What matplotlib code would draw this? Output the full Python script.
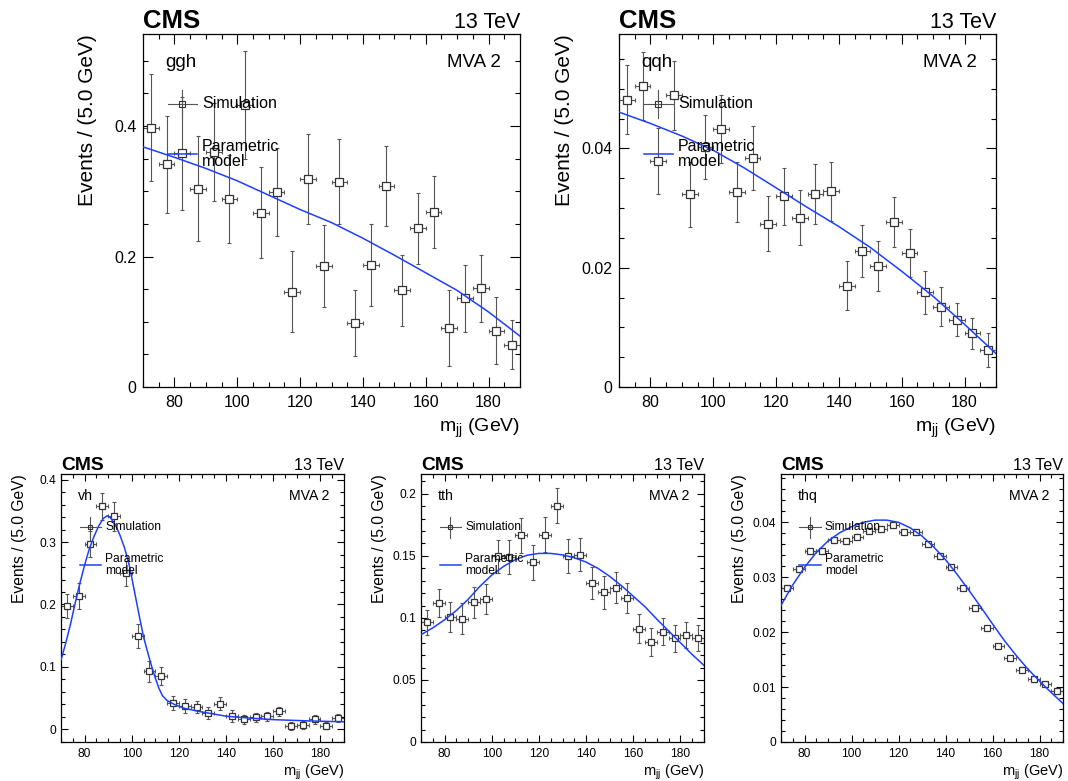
import matplotlib
matplotlib.use("Agg")
import matplotlib.pyplot as plt
from matplotlib.ticker import MultipleLocator, FuncFormatter

plt.rcParams['font.family'] = ['Liberation Sans', 'DejaVu Sans']
plt.rcParams['mathtext.fontset'] = 'custom'
plt.rcParams['mathtext.rm'] = 'Liberation Sans'
plt.rcParams['mathtext.it'] = 'Liberation Sans'

# ---------------- data ----------------
mjj_bins = [72.5, 77.5, 82.5, 87.5, 92.5, 97.5, 102.5, 107.5, 112.5, 117.5, 122.5, 127.5,
            132.5, 137.5, 142.5, 147.5, 152.5, 157.5, 162.5, 167.5, 172.5, 177.5, 182.5, 187.5]
bin_half_width = 2.5

ggh_values = [0.397, 0.341, 0.358, 0.304, 0.360, 0.288, 0.432, 0.267, 0.299, 0.146, 0.319, 0.185,
              0.3145, 0.098, 0.187, 0.308, 0.148, 0.243, 0.268, 0.090, 0.136, 0.151, 0.0865, 0.065]
ggh_errors = [0.082, 0.074, 0.0865, 0.081, 0.075, 0.067, 0.083, 0.070, 0.067, 0.062, 0.069, 0.063,
              0.065, 0.051, 0.063, 0.062, 0.054, 0.055, 0.055, 0.0585, 0.051, 0.052, 0.051, 0.037]
ggh_model_x = [70, 80, 90, 100, 110, 120, 130, 140, 150, 160, 170, 180, 190]
ggh_model_y = [0.368, 0.352, 0.335, 0.316, 0.294, 0.272, 0.252, 0.228, 0.202, 0.175, 0.148, 0.115, 0.078]

qqh_values = [0.0482, 0.0505, 0.0379, 0.0489, 0.0323, 0.0402, 0.0433, 0.0327, 0.0384, 0.0274, 0.0320, 0.0284,
              0.0324, 0.0328, 0.0170, 0.0228, 0.0203, 0.0276, 0.0225, 0.0159, 0.0135, 0.0113, 0.0090, 0.0062]
qqh_errors = [0.00585, 0.0057, 0.0056, 0.00585, 0.0054, 0.0054, 0.0057, 0.0050, 0.0054, 0.00465, 0.00475, 0.00465,
              0.0050, 0.0050, 0.0041, 0.0043, 0.0042, 0.0042, 0.0040, 0.0036, 0.0033, 0.0028, 0.0026, 0.0029]
qqh_model_x = [70, 80, 90, 100, 110, 120, 130, 140, 150, 160, 170, 180, 190]
qqh_model_y = [0.0461, 0.0442, 0.0421, 0.0397, 0.0367, 0.0334, 0.0301, 0.0269, 0.0234, 0.0194, 0.0152, 0.0105, 0.0056]

vh_values = [0.197, 0.213, 0.297, 0.357, 0.341, 0.250, 0.150, 0.093, 0.086, 0.042, 0.037, 0.036,
             0.026, 0.041, 0.021, 0.016, 0.019, 0.021, 0.029, 0.005, 0.007, 0.016, 0.006, 0.018]
vh_errors = [0.019, 0.0206, 0.0214, 0.0222, 0.0233, 0.020, 0.019, 0.017, 0.0145, 0.0118, 0.0115, 0.010,
             0.010, 0.010, 0.010, 0.0072, 0.0075, 0.007, 0.0075, 0.006, 0.007, 0.007, 0.006, 0.007]
vh_model_x = [70, 72, 74, 76, 78, 80, 82, 84, 86, 88, 89.5, 91, 93, 95, 97, 99, 101, 103, 105, 107,
              108.5, 110, 111.5, 113, 115, 118, 122, 128, 134, 140, 150, 160, 175, 190]
vh_model_y = [0.111, 0.138, 0.168, 0.202, 0.234, 0.263, 0.289, 0.309, 0.326, 0.338, 0.342, 0.339, 0.328,
              0.311, 0.290, 0.262, 0.224, 0.185, 0.148, 0.120, 0.100, 0.082, 0.066, 0.054, 0.046, 0.040,
              0.034, 0.029, 0.025, 0.021, 0.018, 0.0155, 0.0135, 0.012]

tth_values = [0.0965, 0.112, 0.1005, 0.0992, 0.1127, 0.1154, 0.1496, 0.149, 0.1666, 0.1447, 0.1671, 0.1906,
              0.150, 0.151, 0.128, 0.1205, 0.1245, 0.116, 0.0914, 0.0809, 0.089, 0.0836, 0.0863, 0.0841]
tth_errors = [0.010, 0.011, 0.012, 0.0125, 0.0125, 0.012, 0.0135, 0.0135, 0.0142, 0.0138, 0.0143, 0.0139,
              0.014, 0.0134, 0.013, 0.013, 0.0124, 0.012, 0.0114, 0.0113, 0.0108, 0.011, 0.0105, 0.0104]
tth_model_x = [70, 75, 80, 85, 90, 95, 100, 105, 110, 115, 120, 125, 130, 135, 140, 145, 150, 155,
               160, 165, 170, 175, 180, 185, 190]
tth_model_y = [0.0865, 0.092, 0.0985, 0.106, 0.1150, 0.1255, 0.1345, 0.1415, 0.147, 0.1505, 0.152, 0.152,
               0.1508, 0.1485, 0.145, 0.140, 0.1335, 0.126, 0.1175, 0.109, 0.099, 0.0895, 0.080, 0.0705, 0.0617]

thq_values = [0.0281, 0.0315, 0.0348, 0.0348, 0.0367, 0.0366, 0.0374, 0.0385, 0.0388, 0.0396, 0.0382, 0.0382,
              0.0360, 0.0339, 0.0318, 0.0280, 0.0244, 0.0208, 0.0175, 0.0153, 0.0132, 0.0114, 0.0105, 0.0093]
thq_errors = [0.0005, 0.0005, 0.0005, 0.0005, 0.0005, 0.0005, 0.0005, 0.0005, 0.0005, 0.0005, 0.0005, 0.0005,
              0.0005, 0.0005, 0.0005, 0.0004, 0.0004, 0.0004, 0.0004, 0.0004, 0.0004, 0.0004, 0.0004, 0.0005]
thq_model_x = [70, 75, 80, 85, 90, 95, 100, 105, 110, 115, 120, 125, 130, 135, 140, 145, 150, 155,
               160, 165, 170, 175, 180, 185, 190]
thq_model_y = [0.0249, 0.0286, 0.0318, 0.0345, 0.0366, 0.0381, 0.0392, 0.0400, 0.0404, 0.0404, 0.0400, 0.0390,
               0.0375, 0.0355, 0.0332, 0.0305, 0.0276, 0.0246, 0.0215, 0.0185, 0.0158, 0.0133, 0.0111, 0.0090, 0.0070]

process_labels = ['ggh', 'qqh', 'vh', 'tth', 'thq']
category_label = 'MVA 2'
energy_label = '13 TeV'
experiment_label = 'CMS'
y_title = 'Events / (5.0 GeV)'
x_title = r'm$_{\mathregular{jj}}$ (GeV)'
legend_labels = ['Simulation', 'Parametric\nmodel']

# ---------------- layout ----------------
W, H = 1068, 781
fig = plt.figure(figsize=(W / 100, H / 100), dpi=100)

MODEL_COLOR = '#1f3fff'
ERR_COLOR = '#555555'
MK_COLOR = '#333333'


def fmt_tick(v, pos):
    if abs(v) < 1e-12:
        return '0'
    return ('%.3f' % v).rstrip('0').rstrip('.')


def panel(rect_px, proc, vals, errs, mx, my, ylim, ymaj, ymin, s):
    l, t, r, b = rect_px
    ax = fig.add_axes([l / W, 1 - b / H, (r - l) / W, (b - t) / H])
    ax.set_xlim(70, 190)
    ax.set_ylim(*ylim)
    # data
    ax.errorbar(mjj_bins, vals, xerr=bin_half_width, yerr=errs, fmt='none',
                ecolor=ERR_COLOR, elinewidth=0.8, capsize=1.6 * s, capthick=0.8, zorder=2)
    ax.plot(mjj_bins, vals, ls='none', marker='s', ms=6.0 * s, mfc='white', mec=MK_COLOR,
            mew=0.9, zorder=3)
    ax.plot(mx, my, color=MODEL_COLOR, lw=1.1, zorder=4)
    # ticks
    ax.xaxis.set_major_locator(MultipleLocator(20))
    ax.xaxis.set_minor_locator(MultipleLocator(5))
    ax.yaxis.set_major_locator(MultipleLocator(ymaj))
    ax.yaxis.set_minor_locator(MultipleLocator(ymin))
    ax.yaxis.set_major_formatter(FuncFormatter(fmt_tick))
    ax.tick_params(which='both', direction='in', top=True, right=True, width=0.8)
    ax.tick_params(which='major', length=7 * s, labelsize=11.5 * s)
    ax.tick_params(which='minor', length=3.6 * s)
    ax.tick_params(axis='x', pad=6 * s)
    ax.tick_params(axis='y', pad=4.5 * s)
    for sp in ax.spines.values():
        sp.set_linewidth(0.9)
    # texts
    fig.text(l / W, 1 - (t - 6 * s) / H, experiment_label, fontsize=18.5 * s, fontweight='bold',
             ha='left', va='baseline')
    fig.text(r / W, 1 - (t - 6 * s) / H, energy_label, fontsize=15.5 * s, ha='right', va='baseline')
    ax.text(0.06, 0.918, proc, transform=ax.transAxes, fontsize=13.5 * s, ha='left', va='center')
    ax.text(0.95, 0.918, category_label, transform=ax.transAxes, fontsize=13.5 * s,
            ha='right', va='center')
    ax.text(-55 * s / (r - l), 1.0, y_title, transform=ax.transAxes, rotation=90,
            rotation_mode='anchor', ha='right', va='center', fontsize=15 * s)
    ax.text(1.0, -45 * s / (b - t), x_title, transform=ax.transAxes, ha='right', va='baseline',
            fontsize=14 * s)
    # legend (drawn by hand, ROOT style)
    tr = ax.transAxes
    hx = 14.5 * s / (r - l)
    hy = 14 * s / (b - t)
    ax.plot([0.104 - hx, 0.104 + hx], [0.802, 0.802], color=ERR_COLOR, lw=0.8, transform=tr, zorder=5)
    ax.plot([0.104, 0.104], [0.802 - hy, 0.802 + hy], color=ERR_COLOR, lw=0.8, transform=tr, zorder=5)
    ax.plot([0.104], [0.802], marker='s', ms=4.5 * s, mfc='none', mec=MK_COLOR, mew=0.8,
            transform=tr, zorder=6)
    ax.text(0.156, 0.802, legend_labels[0], transform=tr, fontsize=11.5 * s, ha='left',
            va='center', zorder=7)
    ax.plot([0.104 - hx, 0.104 + hx], [0.660, 0.660], color=MODEL_COLOR, lw=1.1, transform=tr, zorder=5)
    ax.text(0.156, 0.660, legend_labels[1], transform=tr, fontsize=11.5 * s, ha='left',
            va='center', linespacing=0.95, zorder=7)
    return ax


panel((143, 34, 520, 387), process_labels[0], ggh_values, ggh_errors, ggh_model_x, ggh_model_y,
      (0, 0.541), 0.2, 0.05, 1.0)
panel((619, 34, 996, 387), process_labels[1], qqh_values, qqh_errors, qqh_model_x, qqh_model_y,
      (0, 0.0592), 0.02, 0.005, 1.0)
panel((61, 474, 344, 742), process_labels[2], vh_values, vh_errors, vh_model_x, vh_model_y,
      (-0.0203, 0.409), 0.1, 0.02, 0.75)
panel((421, 474, 704, 742), process_labels[3], tth_values, tth_errors, tth_model_x, tth_model_y,
      (0, 0.216), 0.05, 0.01, 0.75)
panel((781, 474, 1063, 742), process_labels[4], thq_values, thq_errors, thq_model_x, thq_model_y,
      (0, 0.0488), 0.01, 0.002, 0.75)

fig.savefig('out.png', dpi=100)
